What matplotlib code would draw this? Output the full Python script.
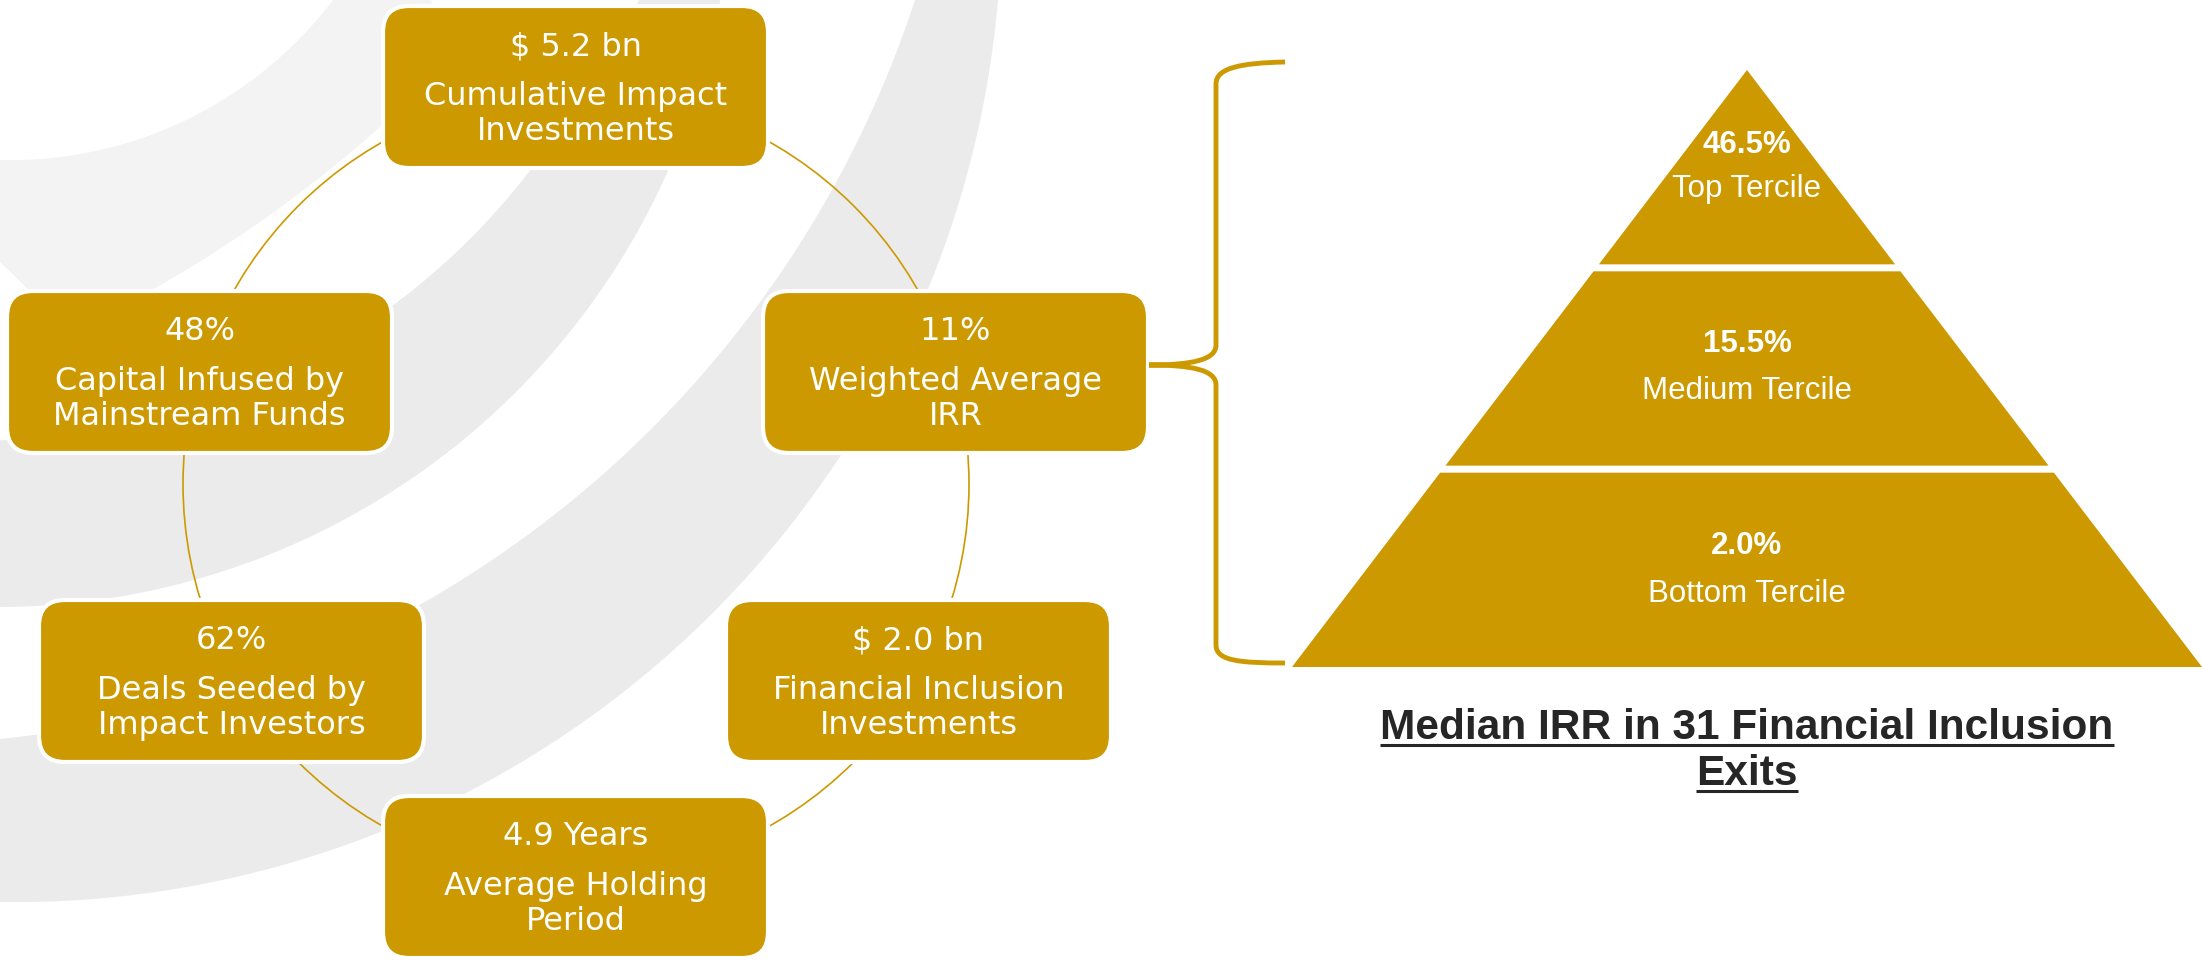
import numpy as np
import matplotlib.pyplot as plt
from matplotlib.patches import FancyBboxPatch, Polygon, Circle, PathPatch
from matplotlib.path import Path

GOLD = '#CC9900'

# ---- data ----
box_values = ["$ 5.2 bn", "11%", "$ 2.0 bn", "4.9 Years", "62%", "48%"]
box_labels = [
    ["Cumulative Impact", "Investments"],
    ["Weighted Average", "IRR"],
    ["Financial Inclusion", "Investments"],
    ["Average Holding", "Period"],
    ["Deals Seeded by", "Impact Investors"],
    ["Capital Infused by", "Mainstream Funds"],
]
tercile_values = [46.5, 15.5, 2.0]
tercile_names = ["Top Tercile", "Medium Tercile", "Bottom Tercile"]
title_lines = ["Median IRR in 31 Financial Inclusion", "Exits"]

# ---- layout (pixels, y down) ----
box_pos = [(383, 6), (763, 291), (726, 600), (383, 796), (39, 600), (7, 291)]
BOX_W, BOX_H = 385, 162
ring_center = (576, 484)
ring_r = 393


def arc_pts(p1, p2, p3, ext=0.35, n=300):
    """Points on the circle through p1, p2, p3, extended past both ends."""
    (x1, y1), (x2, y2), (x3, y3) = p1, p2, p3
    d = 2 * (x1 * (y2 - y3) + x2 * (y3 - y1) + x3 * (y1 - y2))
    ux = ((x1**2 + y1**2) * (y2 - y3) + (x2**2 + y2**2) * (y3 - y1) + (x3**2 + y3**2) * (y1 - y2)) / d
    uy = ((x1**2 + y1**2) * (x3 - x2) + (x2**2 + y2**2) * (x1 - x3) + (x3**2 + y3**2) * (x2 - x1)) / d
    r = np.hypot(x1 - ux, y1 - uy)
    a1 = np.arctan2(y1 - uy, x1 - ux)
    a2 = np.unwrap([a1, np.arctan2(y2 - uy, x2 - ux)])[1]
    a3 = np.unwrap([a2, np.arctan2(y3 - uy, x3 - ux)])[1]
    span = a3 - a1
    a = np.linspace(a1 - ext * span, a3 + ext * span, n)
    return np.column_stack([ux + r * np.cos(a), uy + r * np.sin(a)])


def band(ax, outer, inner, color):
    o = arc_pts(*outer)
    i = arc_pts(*inner)[::-1]
    ax.add_patch(Polygon(np.vstack([o, i]), closed=True, facecolor=color,
                         edgecolor='none', zorder=0))


fig = plt.figure(figsize=(22.02, 9.66), dpi=100)
ax = fig.add_axes([0, 0, 1, 1])
ax.set_xlim(0, 2202)
ax.set_ylim(966, 0)
ax.axis('off')

# background ripple bands
band(ax, [(0, 160), (200, 113), (333, 0)], [(157, 287), (267, 217), (380, 127)], '#F3F3F3')
band(ax, [(528, 173), (400, 300), (150, 420)], [(667, 173), (463, 440), (0, 607)], '#EBEBEB')
band(ax, [(915, 0), (640, 440), (0, 739)], [(998, 0), (800, 513), (0, 902)], '#EBEBEB')

# connecting ring
ax.add_patch(Circle(ring_center, ring_r, fill=False, edgecolor=GOLD, lw=1.2, zorder=1))

# boxes
for (x0, y0), val, lab in zip(box_pos, box_values, box_labels):
    ax.add_patch(FancyBboxPatch((x0, y0), BOX_W, BOX_H,
                                boxstyle="round,pad=0,rounding_size=26",
                                facecolor=GOLD, edgecolor='white', lw=3, zorder=2))
    cx = x0 + BOX_W / 2
    ax.text(cx, y0 + 49, val, color='white', fontsize=23, ha='center', va='baseline',
            family='DejaVu Sans', zorder=3)
    for k, line in enumerate(lab):
        ax.text(cx, y0 + 99 + 35 * k, line, color='white', fontsize=23, ha='center',
                va='baseline', family='DejaVu Sans', zorder=3)

# bracket
verts = [(1285, 62), (1240, 63), (1216, 68), (1216, 84),
         (1216, 345),
         (1216, 360), (1192, 365), (1149, 365),
         (1192, 365), (1216, 370), (1216, 385),
         (1216, 645),
         (1216, 661), (1240, 663), (1285, 663)]
codes = [Path.MOVETO, Path.CURVE4, Path.CURVE4, Path.CURVE4,
         Path.LINETO,
         Path.CURVE4, Path.CURVE4, Path.CURVE4,
         Path.CURVE4, Path.CURVE4, Path.CURVE4,
         Path.LINETO,
         Path.CURVE4, Path.CURVE4, Path.CURVE4]
ax.add_patch(PathPatch(Path(verts, codes), fill=False, edgecolor=GOLD, lw=3.5,
                       capstyle='butt', zorder=2))

# pyramid
apex_x, apex_y, base_y, base_half = 1747, 70, 667, 455
gap = 7
n = len(tercile_values)
seg_h = (base_y - apex_y - gap * (n - 1)) / n
val_y = [145, 344, 546]
lab_y = [189, 391, 594]
for i, (v, name) in enumerate(zip(tercile_values, tercile_names)):
    top = apex_y + i * (seg_h + gap)
    bot = top + seg_h
    ht = (top - apex_y) * base_half / (base_y - apex_y)
    hb = (bot - apex_y) * base_half / (base_y - apex_y)
    ax.add_patch(Polygon([(apex_x - ht, top), (apex_x + ht, top),
                          (apex_x + hb, bot), (apex_x - hb, bot)],
                         closed=True, facecolor=GOLD, edgecolor='none', zorder=2))
    ax.text(apex_x, val_y[i], f"{v:.1f}%", color='white', fontsize=22.5, fontweight='bold',
            ha='center', va='center', family='Liberation Sans', zorder=3)
    ax.text(apex_x, lab_y[i], name, color='white', fontsize=22.5,
            ha='center', va='center', family='Liberation Sans', zorder=3)

# underlined title
title_base = [739, 785]
texts = []
for line, yb in zip(title_lines, title_base):
    texts.append(ax.text(apex_x, yb, line, color='#262626', fontsize=30.5, fontweight='bold',
                         ha='center', va='baseline', family='Liberation Sans', zorder=3))
fig.canvas.draw()
renderer = fig.canvas.get_renderer()
inv = ax.transData.inverted()
for t, yb in zip(texts, title_base):
    bb = t.get_window_extent(renderer)
    (xa, _), (xb, _) = inv.transform([(bb.x0, bb.y0), (bb.x1, bb.y0)])
    ax.plot([xa, xb], [yb + 6, yb + 6], color='#262626', lw=2.2, solid_capstyle='butt', zorder=3)

fig.savefig('out.png', dpi=100)
